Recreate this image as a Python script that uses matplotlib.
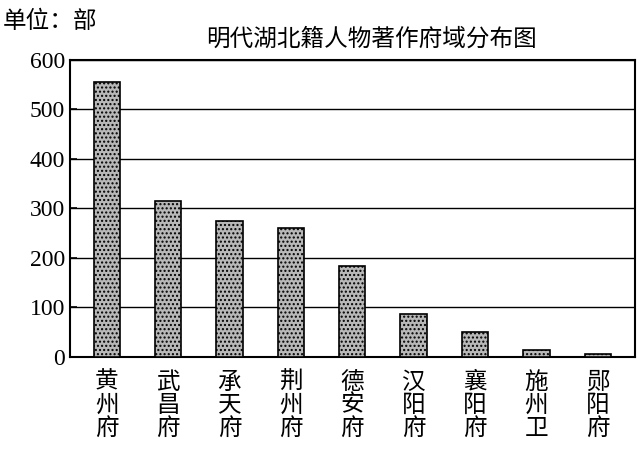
import matplotlib
matplotlib.use("Agg")
import matplotlib.pyplot as plt

plt.rcParams['font.family'] = ['Noto Sans CJK SC', 'DejaVu Sans']

regions = ["黄州府", "武昌府", "承天府", "荆州府", "德安府", "汉阳府", "襄阳府", "施州卫", "郧阳府"]
counts = [555, 315, 275, 260, 183, 87, 50, 14, 6]
yticks = [0, 100, 200, 300, 400, 500, 600]

fig = plt.figure(figsize=(6.41, 4.67), dpi=100)
ax = fig.add_axes([0.109, 0.236, 0.881, 0.636])
ax.bar(range(len(regions)), counts, width=0.43, color="#b8b8b8",
       edgecolor="black", linewidth=1.2, hatch="....", zorder=3)
ax.set_xlim(-0.6, len(regions) - 0.4)
ax.set_ylim(0, 600)
ax.set_yticks(yticks)
ax.set_yticklabels([str(v) for v in yticks], fontsize=17, family="Liberation Serif")
ax.yaxis.grid(True, color="black", linewidth=1.0, zorder=0)
ax.set_xticks(range(len(regions)))
ax.set_xticklabels(["\n".join(r) for r in regions], fontsize=17, linespacing=1.0)
ax.tick_params(axis="x", length=0, pad=10)
ax.tick_params(axis="y", direction="in", length=5, width=1.2)
for s in ax.spines.values():
    s.set_linewidth(1.5)

fig.text(0.005, 0.955, "单位：部", fontsize=17, ha="left", va="center")
fig.text(0.58, 0.915, "明代湖北籍人物著作府域分布图", fontsize=17, ha="center", va="center")

fig.savefig("out.png", dpi=100)
